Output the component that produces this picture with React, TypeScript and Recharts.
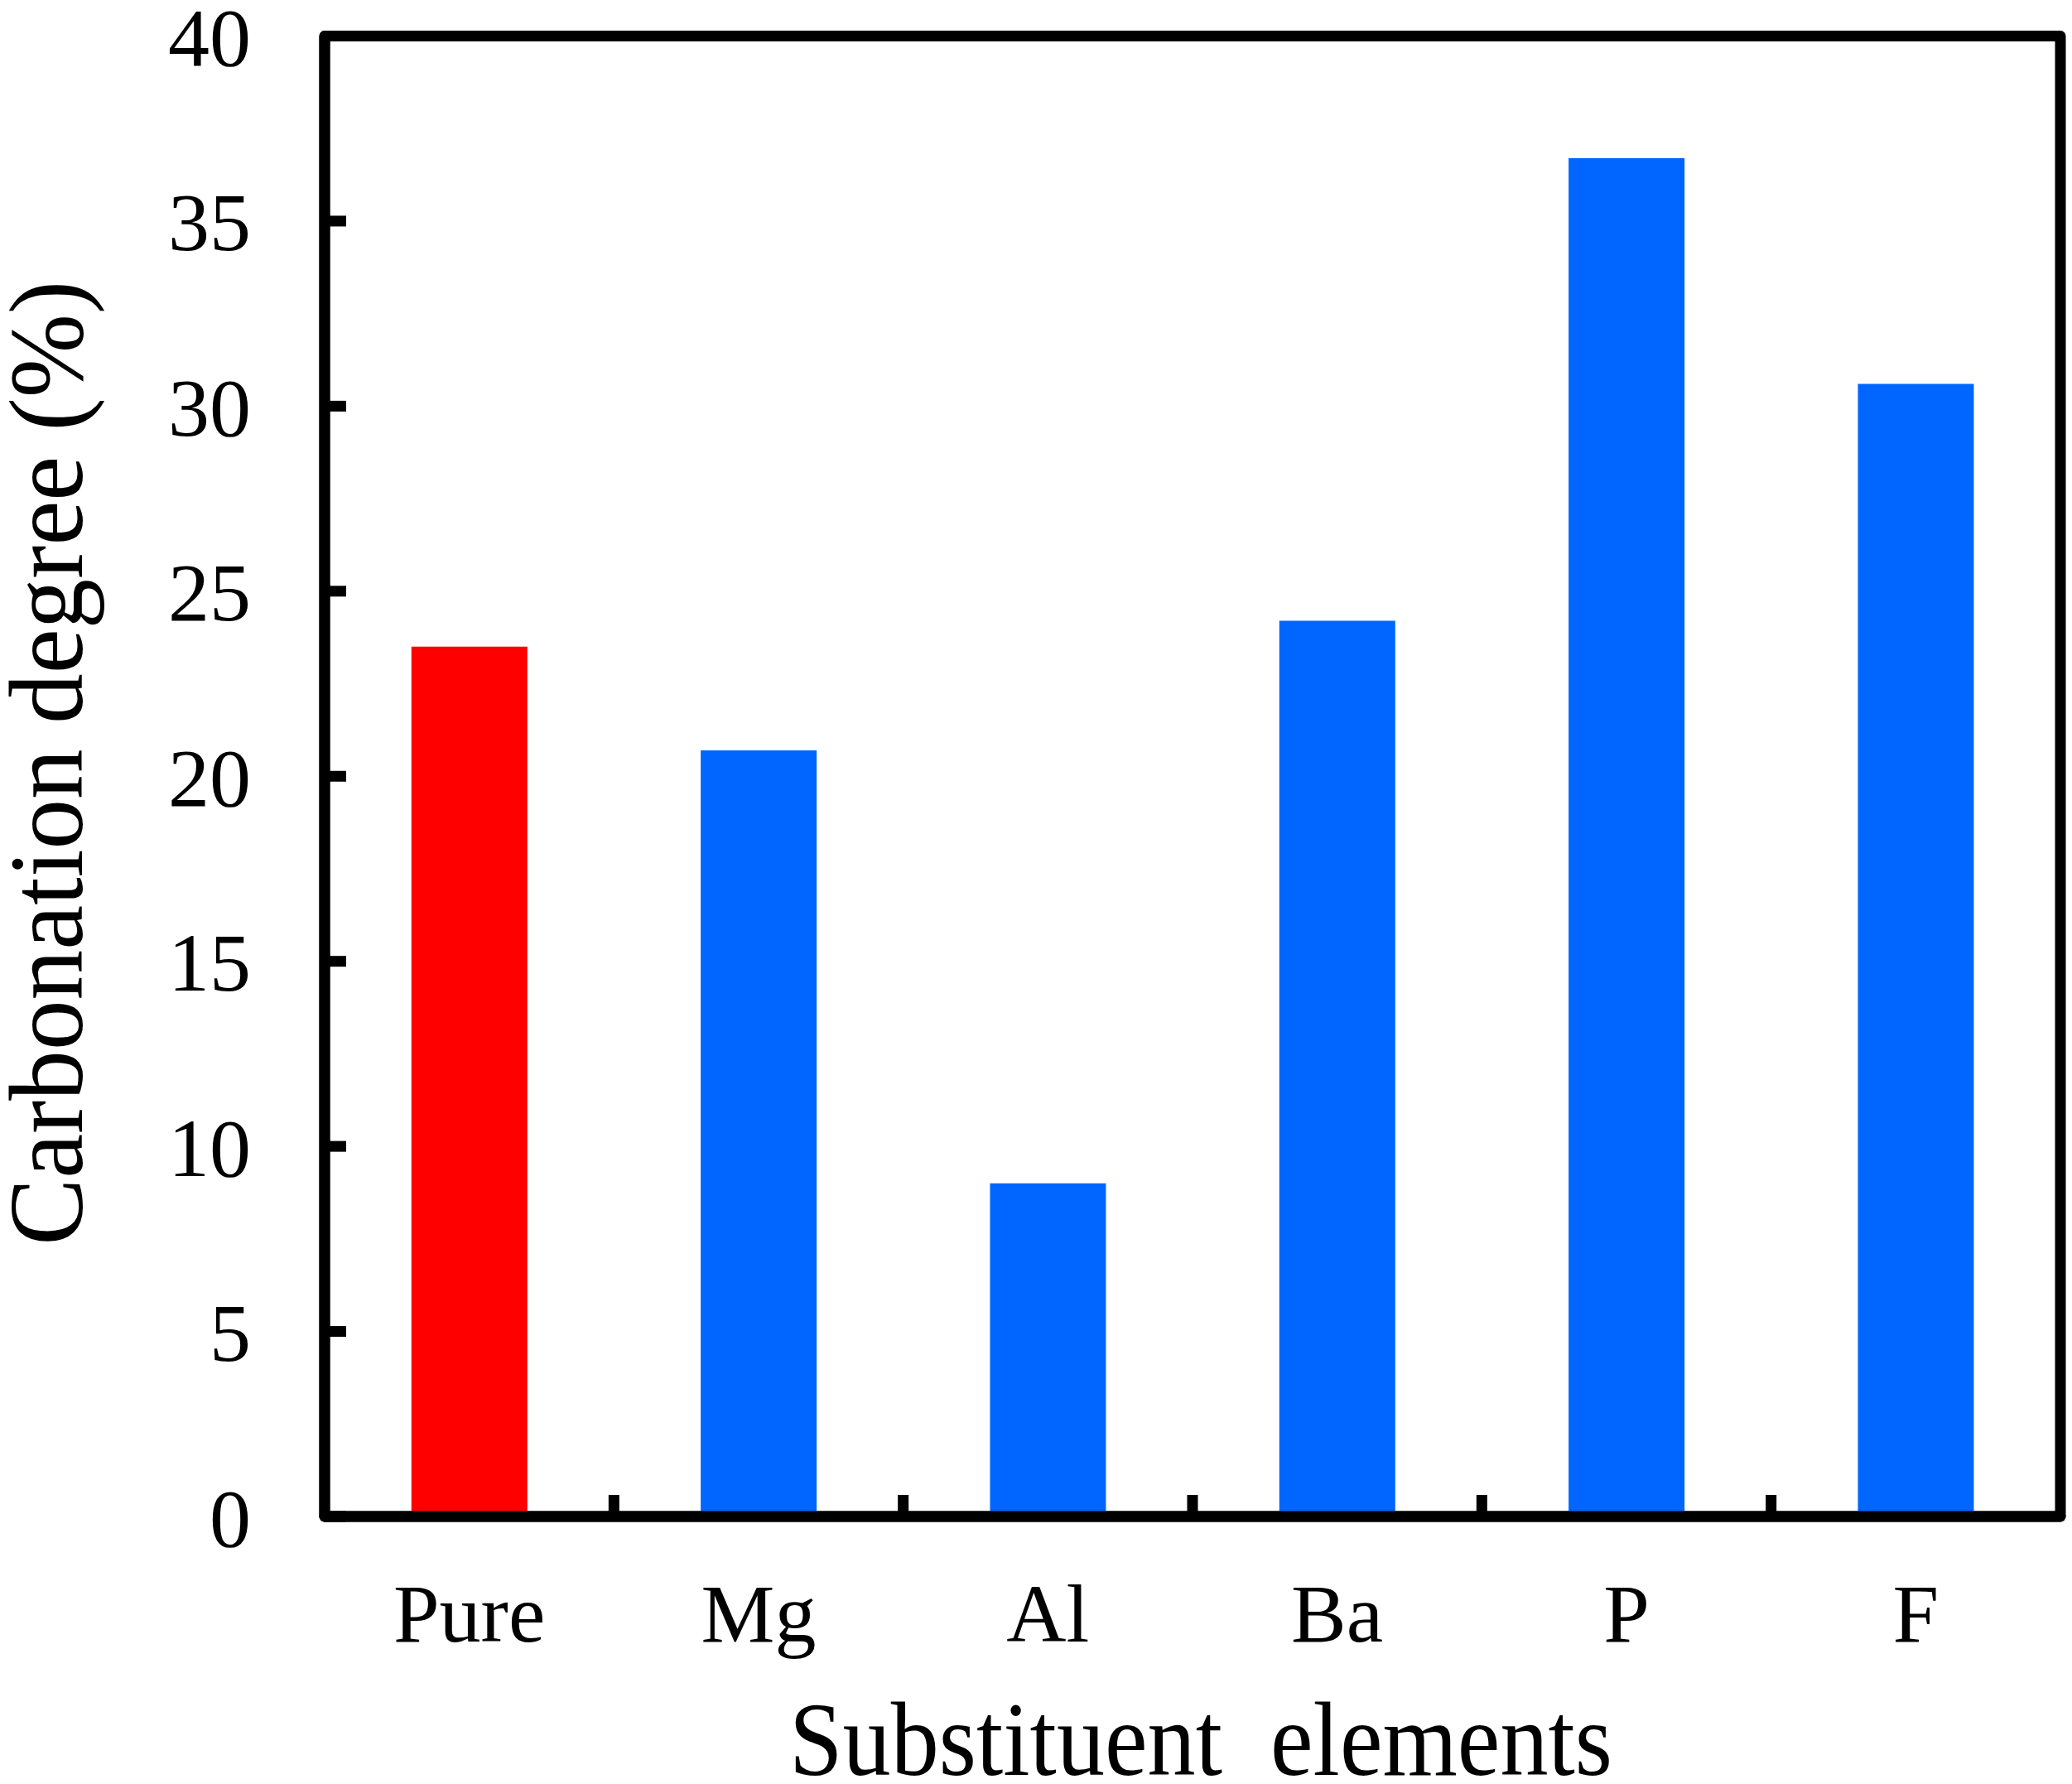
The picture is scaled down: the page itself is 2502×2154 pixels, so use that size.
import React from "react";
import { Bar, BarChart, Cell, Label, ReferenceArea, XAxis, YAxis } from "recharts";

// Carbonation degree of the pure sample and each substituted one.
const ELEMENTS = ["Pure", "Mg", "Al", "Ba", "P", "F"];
const CARBONATION = [23.5, 20.7, 9.0, 24.2, 36.7, 30.6];
const Y_TICKS = [0, 5, 10, 15, 20, 25, 30, 35, 40];
const Y_DOMAIN = [0, 40];

const REFERENCE = "Pure";
const RED = "#ff0000";
const BLUE = "#0066ff";
const INK = "#000000";
const FONT = "'Liberation Serif', 'Times New Roman', serif";

const W = 2502;
const H = 2154;
const Y_AXIS_W = 392;
const X_AXIS_H = 323;
const MARGIN = { top: 43.5, right: 14, bottom: 0, left: 0 };
const BAND = (W - Y_AXIS_W - MARGIN.right) / ELEMENTS.length;

const FRAME = { stroke: INK, strokeWidth: 13, strokeLinecap: "round" as const };

const data = ELEMENTS.map((name, i) => ({ name, value: CARBONATION[i] }));

// Category label under the band + an inward tick on the boundary to its right.
function ElementTick(props: any) {
  const { x, y, payload, index } = props;
  const half = typeof payload?.offset === "number" && payload.offset > 0 ? payload.offset : BAND / 2;
  return (
    <g>
      {index < ELEMENTS.length - 1 && (
        <line x1={x + half} x2={x + half} y1={y} y2={y - 26} stroke={INK} strokeWidth={13} />
      )}
      <text x={x} y={y + 80} dy="0.71em" textAnchor="middle" fontSize={100} fontFamily={FONT} fill={INK}>
        {payload.value}
      </text>
    </g>
  );
}

function XTitle({ viewBox }: any) {
  const cx = viewBox.x + viewBox.width / 2 + 10;
  return (
    <text x={cx} y={viewBox.y + viewBox.height - 11} textAnchor="middle" fontSize={126} fontFamily={FONT}
      fill={INK} textLength={994} lengthAdjust="spacingAndGlyphs" style={{ whiteSpace: "pre" }}>
      {"Substituent  elements"}
    </text>
  );
}

function YTitle({ viewBox }: any) {
  const cy = viewBox.y + viewBox.height / 2 - 16;
  const bx = 99;
  return (
    <text x={bx} y={cy} transform={`rotate(-90, ${bx}, ${cy})`} textAnchor="middle" fontSize={126}
      fontFamily={FONT} fill={INK} textLength={1165} lengthAdjust="spacingAndGlyphs">
      Carbonation degree (%)
    </text>
  );
}

export default function App() {
  return (
    <div style={{ position: "absolute", left: 0, top: 0, background: "#fff" }}>
      <BarChart width={W} height={H} data={data} margin={MARGIN} barCategoryGap="30%">
        <Bar dataKey="value" isAnimationActive={false}>
          {data.map((d) => (
            <Cell key={d.name} fill={d.name === REFERENCE ? RED : BLUE} />
          ))}
        </Bar>
        {/* closed box round the plot */}
        <ReferenceArea
          x1={ELEMENTS[0]}
          x2={ELEMENTS[ELEMENTS.length - 1]}
          y1={Y_DOMAIN[0]}
          y2={Y_DOMAIN[1]}
          fill="none"
          fillOpacity={0}
          stroke={INK}
          strokeWidth={13}
          strokeLinejoin="round"
          ifOverflow="visible"
        />
        <XAxis
          dataKey="name"
          height={X_AXIS_H}
          interval={0}
          axisLine={FRAME}
          tickLine={false}
          tickSize={0}
          tickMargin={0}
          tick={<ElementTick />}
        >
          <Label content={<XTitle />} />
        </XAxis>
        <YAxis
          width={Y_AXIS_W}
          domain={Y_DOMAIN}
          ticks={Y_TICKS}
          interval={0}
          axisLine={FRAME}
          tickLine={{ stroke: INK, strokeWidth: 13 }}
          tickSize={-26}
          tickMargin={115}
          tick={{ fill: INK, fontSize: 100, fontFamily: FONT }}
        >
          <Label content={<YTitle />} />
        </YAxis>
      </BarChart>
    </div>
  );
}
